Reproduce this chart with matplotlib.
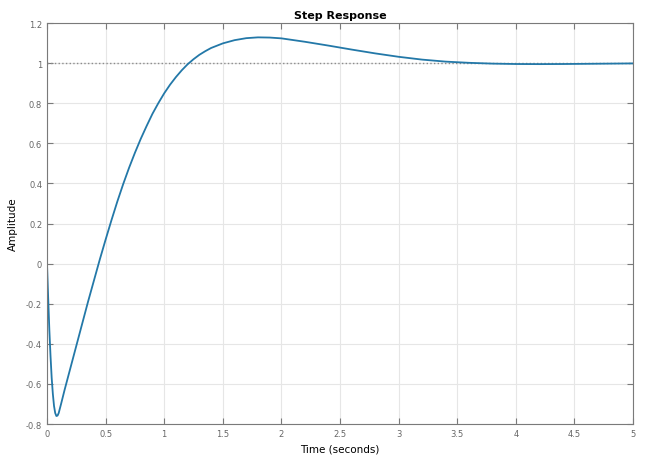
import matplotlib.pyplot as plt
from matplotlib.ticker import FormatStrFormatter

# step response
time_s = [0, 0.01, 0.02, 0.03, 0.04, 0.05, 0.06, 0.07, 0.08, 0.09, 0.10,
          0.12, 0.15, 0.20, 0.25, 0.30, 0.35, 0.40, 0.45, 0.50, 0.55, 0.60,
          0.65, 0.70, 0.75, 0.80, 0.85, 0.90, 0.95, 1.0, 1.05, 1.1, 1.15,
          1.2, 1.25, 1.3, 1.35, 1.4, 1.5, 1.6, 1.7, 1.8, 1.9, 2.0, 2.2, 2.4,
          2.6, 2.8, 3.0, 3.2, 3.4, 3.6, 3.8, 4.0, 4.2, 4.4, 4.6, 4.8, 5.0]
amplitude = [0, -0.17, -0.33, -0.46, -0.57, -0.65, -0.71, -0.745, -0.76,
             -0.758, -0.745, -0.70, -0.63, -0.52, -0.41, -0.30, -0.19,
             -0.085, 0.02, 0.12, 0.217, 0.31, 0.397, 0.478, 0.553, 0.623,
             0.687, 0.748, 0.801, 0.850, 0.893, 0.931, 0.965, 0.995, 1.020,
             1.042, 1.060, 1.076, 1.099, 1.115, 1.125, 1.129, 1.128, 1.124,
             1.107, 1.088, 1.068, 1.049, 1.032, 1.018, 1.008, 1.002, 0.998,
             0.996, 0.9955, 0.996, 0.997, 0.998, 0.999]
final_value = 1.0

x_ticks = [0, 0.5, 1, 1.5, 2, 2.5, 3, 3.5, 4, 4.5, 5]
y_ticks = [-0.8, -0.6, -0.4, -0.2, 0, 0.2, 0.4, 0.6, 0.8, 1, 1.2]

fig = plt.figure(figsize=(6.5, 4.64), dpi=100)
ax = fig.add_axes([0.0723, 0.084, 0.9017, 0.864])

ax.plot([time_s[0], time_s[-1]], [final_value, final_value],
        linestyle=':', color='#8c8c8c', linewidth=1.0)
ax.plot(time_s, amplitude, color='#2378a8', linewidth=1.3)

ax.set_xlim(0, 5)
ax.set_ylim(-0.8, 1.2)
ax.set_xticks(x_ticks)
ax.set_yticks(y_ticks)
ax.xaxis.set_major_formatter(FormatStrFormatter('%g'))
ax.yaxis.set_major_formatter(FormatStrFormatter('%g'))
ax.tick_params(direction='in', top=True, right=True, length=4,
               labelsize=6, colors='#7a7a7a', labelcolor='#666666')
ax.grid(True, color='#e6e6e6', linewidth=0.8)
ax.set_axisbelow(True)
for side in ax.spines.values():
    side.set_color('#7a7a7a')
    side.set_linewidth(0.8)

ax.set_title('Step Response', fontsize=8, fontweight='bold', pad=4)
ax.set_xlabel('Time (seconds)', fontsize=7.5, labelpad=4)
ax.set_ylabel('Amplitude', fontsize=7.5, labelpad=6)

fig.savefig('out.png', dpi=100)
